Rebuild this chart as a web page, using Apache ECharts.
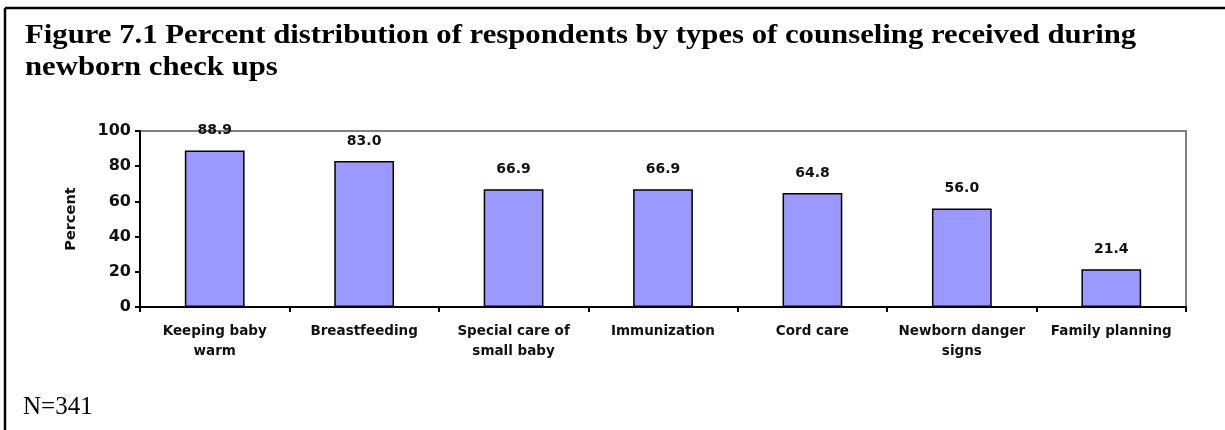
<!DOCTYPE html>
<html>
<head>
<meta charset="utf-8">
<script src="https://cdn.jsdelivr.net/npm/echarts@6/dist/echarts.min.js"></script>
<style>html,body{margin:0;padding:0;background:#fff}#c{width:1225px;height:430px}</style>
</head>
<body>
<div id="c"></div>
<script>
var titleText = 'Figure 7.1 Percent distribution of respondents by types of counseling received during\nnewborn check ups';
var noteText = 'N=341';
var yAxisName = 'Percent';
var categories = ['Keeping baby\nwarm', 'Breastfeeding', 'Special care of\nsmall baby', 'Immunization', 'Cord care', 'Newborn danger\nsigns', 'Family planning'];
var values = [88.9, 83.0, 66.9, 66.9, 64.8, 56.0, 21.4];

var chart = echarts.init(document.getElementById('c'), null, {renderer: 'canvas'});
var sans = '"DejaVu Sans", "Liberation Sans", Arial, sans-serif';
var serif = '"Liberation Serif", "Times New Roman", serif';
chart.setOption({
  animation: false,
  backgroundColor: '#ffffff',
  graphic: [
    {type: 'line', shape: {x1: 5, y1: 8, x2: 1225, y2: 8}, style: {stroke: '#000', lineWidth: 2.5}},
    {type: 'line', shape: {x1: 5, y1: 8, x2: 5, y2: 430}, style: {stroke: '#000', lineWidth: 2.5}},
    {type: 'text', x: 25, y: 20, scaleX: 1.16, scaleY: 1, originX: 0, originY: 0,
     style: {text: titleText, font: 'bold 26.5px ' + serif, lineHeight: 32, fill: '#000', verticalAlign: 'top', align: 'left'}},
    {type: 'text', x: 23, y: 407, style: {text: noteText, font: '25px ' + serif, fill: '#000', verticalAlign: 'middle', align: 'left'}}
  ],
  grid: {left: 140, right: 39, top: 131, bottom: 123, show: true, borderColor: '#808080', borderWidth: 2, backgroundColor: 'transparent'},
  xAxis: {
    type: 'category',
    data: categories,
    axisLine: {lineStyle: {color: '#000', width: 2}},
    axisTick: {show: true, length: 5, lineStyle: {color: '#000', width: 2}},
    axisLabel: {fontFamily: sans, fontWeight: 'bold', fontSize: 13.5, color: '#111', lineHeight: 20, margin: 14, interval: 0}
  },
  yAxis: {
    type: 'value',
    min: 0, max: 100, interval: 20,
    name: yAxisName,
    nameLocation: 'middle',
    nameGap: 61,
    nameRotate: 90,
    nameTextStyle: {fontFamily: sans, fontWeight: 'bold', fontSize: 14.5, color: '#111'},
    axisLine: {show: true, lineStyle: {color: '#000', width: 2}},
    axisTick: {show: true, length: 5, lineStyle: {color: '#000', width: 2}},
    axisLabel: {fontFamily: sans, fontWeight: 'bold', fontSize: 16, color: '#111', margin: 9},
    splitLine: {show: false}
  },
  series: [{
    type: 'bar',
    data: values,
    barCategoryGap: '60%',
    itemStyle: {color: '#9999ff', borderColor: '#000', borderWidth: 1.5},
    label: {
      show: true, position: 'top', distance: 13,
      formatter: function (p) { return p.value.toFixed(1); },
      fontFamily: sans, fontWeight: 'bold', fontSize: 14, color: '#111'
    }
  }]
});
</script>
</body>
</html>
